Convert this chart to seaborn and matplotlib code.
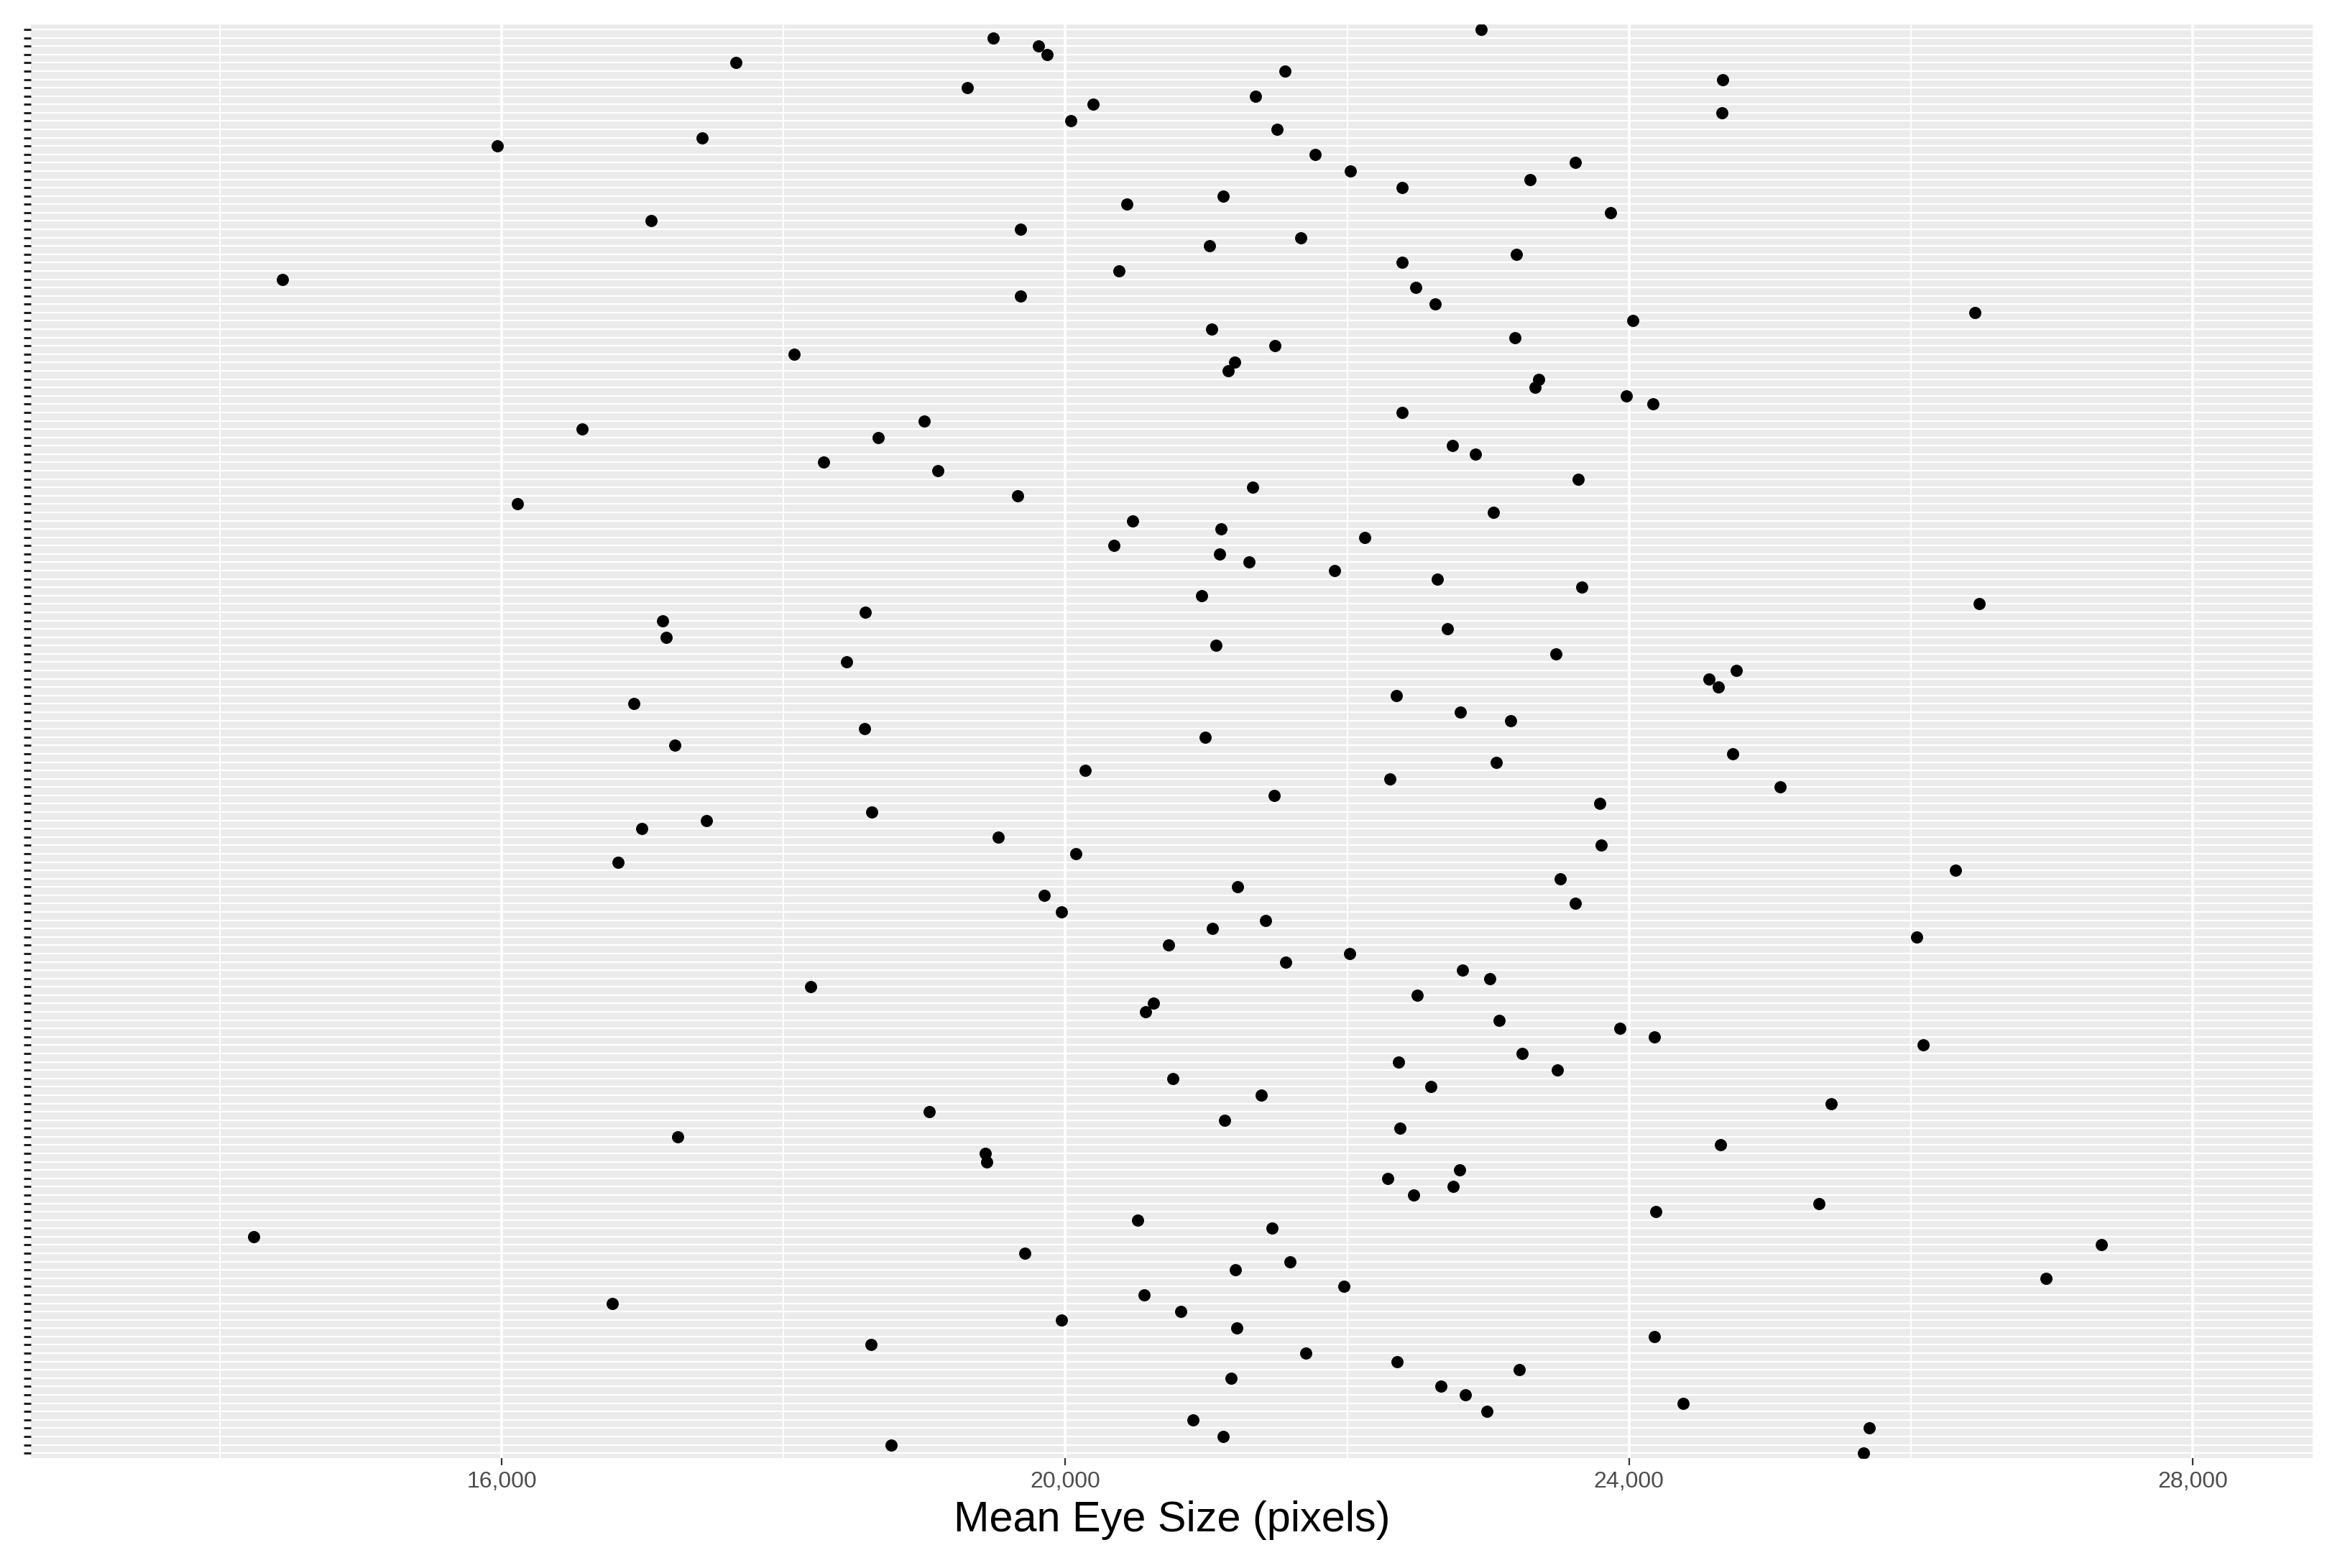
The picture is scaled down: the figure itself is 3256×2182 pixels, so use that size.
import numpy as np
import pandas as pd
import matplotlib
matplotlib.use("Agg")
import matplotlib.pyplot as plt
from matplotlib.ticker import FuncFormatter, FixedLocator
import seaborn as sns

# mean eye size per individual, top row first
eye_size = [
    22953, 19488, 19808, 19872, 17664, 21556, 24665, 19307, 21348, 20198,
    24660, 20038, 21503, 17424, 15968, 21775, 23620, 22020, 23295, 22388,
    21119, 20438, 23870, 17062, 19680, 21673, 21023, 23199, 22388, 20379,
    14443, 22489, 19680, 22623, 26452, 24025, 21039, 23188, 21487, 18075,
    21199, 21156, 23359, 23332, 23982, 24169, 22388, 18998, 16571, 18672,
    22745, 22911, 18283, 19094, 23641, 21327, 19664, 16112, 23039, 20475,
    21103, 22127, 20347, 21092, 21305, 21908, 22639, 23662, 20969, 26484,
    18582, 17142, 22713, 17168, 21071, 23481, 18448, 24761, 24569, 24633,
    22351, 16939, 22804, 23161, 18576, 20991, 17227, 24734, 23060, 20139,
    22303, 25070, 21481, 23790, 18624, 17456, 16992, 19526, 23801, 20075,
    16827, 26318, 23513, 21220, 19851, 23619, 19971, 21419, 21042, 26041,
    20733, 22017, 21563, 22818, 23011, 18195, 22499, 20627, 20569, 23078,
    23937, 24178, 26089, 23242, 22364, 23493, 20762, 22596, 21390, 25433,
    19035, 21129, 22374, 17250, 24651, 19431, 19440, 22799, 22287, 22750,
    22470, 25346, 24188, 20511, 21467, 14239, 27353, 19710, 21592, 21206,
    26958, 21978, 20560, 16787, 20820, 19971, 21216, 24178, 18620, 21708,
    22355, 23223, 21177, 22663, 22837, 24381, 22992, 20907, 25703, 21119,
    18765, 25665,
]
individual = [f"ID{i + 1:03d}" for i in range(len(eye_size))]

major_ticks = [16000, 20000, 24000, 28000]
minor_ticks = [14000, 18000, 22000, 26000]
x_limits = (12660, 28850)

df = pd.DataFrame({"individual": individual, "eye_size": eye_size})

sns.set_theme(style="darkgrid", rc={
    "axes.facecolor": "#EBEBEB",
    "grid.color": "white",
})
plt.rcParams["font.family"] = ["Liberation Sans", "DejaVu Sans"]

fig, ax = plt.subplots(figsize=(16.28, 10.91), dpi=200)
fig.subplots_adjust(left=0.0132, right=0.9883, top=0.9844, bottom=0.0701)

sns.stripplot(data=df, x="eye_size", y="individual", order=individual,
              jitter=False, color="black", size=6.1, linewidth=0, ax=ax)

n = len(individual)
ax.set_ylim(n - 1 + 0.6, -0.6)
ax.set_xlim(*x_limits)

# grid: white lines per row, major + minor verticals
ax.set_axisbelow(True)
ax.yaxis.grid(True, color="white", linewidth=0.8)
ax.xaxis.set_major_locator(FixedLocator(major_ticks))
ax.xaxis.set_minor_locator(FixedLocator(minor_ticks))
ax.xaxis.grid(True, which="major", color="white", linewidth=1.4)
ax.xaxis.grid(True, which="minor", color="white", linewidth=0.7)
ax.xaxis.set_major_formatter(FuncFormatter(lambda v, p: f"{int(v):,}"))

ax.tick_params(axis="x", which="major", bottom=True, length=3.6, width=0.8,
               color="#333333", labelsize=11.5, labelcolor="#4D4D4D", pad=3)
ax.tick_params(axis="x", which="minor", bottom=False, length=0)
ax.tick_params(axis="y", left=True, length=3.6, width=1.1, color="#222222",
               labelleft=False)

for s in ax.spines.values():
    s.set_visible(False)

ax.set_ylabel("")
ax.set_xlabel("Mean Eye Size (pixels)", fontsize=21.4, color="black", labelpad=4)

fig.savefig("out.png", dpi=200)
